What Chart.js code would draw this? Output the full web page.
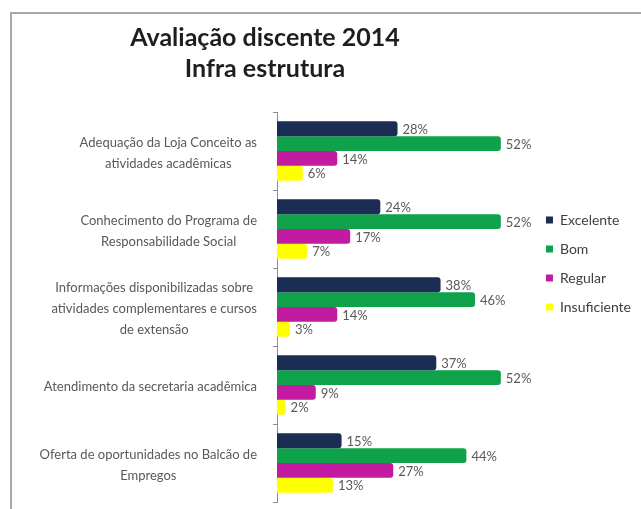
<!DOCTYPE html>
<html lang="pt-BR">
<head>
<meta charset="utf-8">
<title>Avaliação discente 2014</title>
<script src="https://cdn.jsdelivr.net/npm/chart.js@4.4.1/dist/chart.umd.min.js"></script>
<style>
    html, body { margin: 0; padding: 0; background: #fff; }
    #moldura {
        position: absolute; left: 10px; top: 12px; width: 640px; height: 510px;
        border-left: 2px solid #a9a9a9; border-top: 2px solid #a9a9a9;
    }
    #titulo {
        position: absolute; left: 65px; top: 21px; width: 400px;
        font: bold 25px Lato, sans-serif; line-height: 31px;
        color: #1e1e1e; text-align: center;
    }
    #area { position: absolute; left: 0; top: 0; width: 641px; height: 509px; }
</style>
</head>
<body>
<div id="moldura"></div>
<div id="area"><canvas id="grafico"></canvas></div>
<div id="titulo">Avaliação discente 2014<br>Infra estrutura</div>

<script>
// Avaliação discente 2014 - infraestrutura (percentuais por item)
const categorias = [
    ['Adequação da Loja Conceito as', 'atividades acadêmicas'],
    ['Conhecimento do Programa de', 'Responsabilidade Social'],
    ['Informações disponibilizadas sobre', 'atividades complementares e cursos', 'de extensão'],
    ['Atendimento da secretaria acadêmica'],
    ['Oferta de oportunidades no Balcão de', 'Empregos']
];
const excelente = [28, 24, 38, 37, 15];
const bom = [52, 52, 46, 52, 44];
const regular = [14, 17, 14, 9, 27];
const insuficiente = [6, 7, 3, 2, 13];

const CORES = {
    excelente: '#1b2d52',
    bom: '#0fa24b',
    regular: '#c21aa0',
    insuficiente: '#ffff00'
};

// Rótulos das categorias: cada bloco centralizado, encostado no eixo
const rotulosCategoria = {
    id: 'rotulosCategoria',
    afterDraw(chart) {
        const eixo = chart.scales.y;
        const ctx = chart.ctx;
        ctx.save();
        ctx.font = '13px Lato';
        ctx.fillStyle = '#595959';
        ctx.textAlign = 'center';
        ctx.textBaseline = 'middle';
        chart.data.labels.forEach((rotulo, i) => {
            const linhas = Array.isArray(rotulo) ? rotulo : [rotulo];
            const largura = Math.max(...linhas.map(l => ctx.measureText(l).width));
            const cx = eixo.right - 20 - largura / 2;
            const cy = eixo.getPixelForTick(i) + 2;
            linhas.forEach((l, j) => {
                ctx.fillText(l, cx, cy + (j - (linhas.length - 1) / 2) * 21);
            });
        });
        ctx.restore();
    }
};

// Valor em % ao final de cada barra
const rotulosValor = {
    id: 'rotulosValor',
    afterDatasetsDraw(chart) {
        const ctx = chart.ctx;
        ctx.save();
        ctx.font = '13px Lato';
        ctx.fillStyle = '#595959';
        ctx.textAlign = 'left';
        ctx.textBaseline = 'middle';
        chart.data.datasets.forEach((ds, i) => {
            chart.getDatasetMeta(i).data.forEach((barra, j) => {
                ctx.fillText(ds.data[j] + '%', barra.x + 5, barra.y + 1);
            });
        });
        ctx.restore();
    }
};

const ctx = document.getElementById('grafico');
Chart.defaults.font.family = 'Lato';

new Chart(ctx, {
    type: 'bar',
    data: {
        labels: categorias,
        datasets: [
            { label: 'Excelente', data: excelente, backgroundColor: CORES.excelente },
            { label: 'Bom', data: bom, backgroundColor: CORES.bom },
            { label: 'Regular', data: regular, backgroundColor: CORES.regular },
            { label: 'Insuficiente', data: insuficiente, backgroundColor: CORES.insuficiente }
        ]
    },
    options: {
        indexAxis: 'y',
        responsive: true,
        maintainAspectRatio: false,
        animation: false,
        layout: {
            padding: { top: 25, bottom: 7, left: 0, right: 0 }
        },
        datasets: {
            bar: {
                categoryPercentage: 0.76,
                barPercentage: 1.0,
                borderRadius: 3,
                borderSkipped: 'start'
            }
        },
        plugins: {
            legend: {
                position: 'right',
                labels: {
                    boxWidth: 7,
                    boxHeight: 7,
                    padding: 15,
                    color: '#404040',
                    font: { size: 14 }
                }
            },
            tooltip: { enabled: false }
        },
        scales: {
            x: {
                position: 'top',
                min: 0,
                max: 59,
                grid: { display: false },
                border: { display: false },
                ticks: { display: false },
                // espaço reservado para o título
                afterFit: (escala) => { escala.height = 87; }
            },
            y: {
                ticks: { display: false },
                grid: {
                    drawOnChartArea: false,
                    tickLength: 4,
                    color: '#8c8c8c'
                },
                border: { color: '#8c8c8c' },
                afterFit: (escala) => { escala.width = 277; }
            }
        }
    },
    plugins: [rotulosCategoria, rotulosValor]
});
</script>
</body>
</html>
